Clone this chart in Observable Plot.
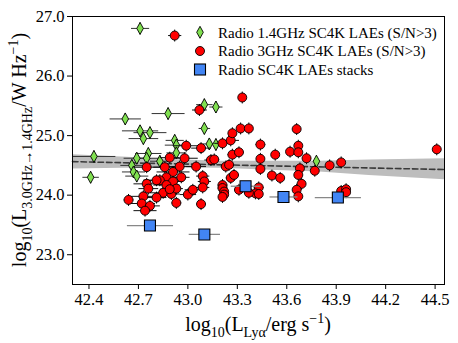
<!DOCTYPE html>
<html><head><meta charset="utf-8">
<script src="https://cdn.jsdelivr.net/npm/d3@7"></script>
<script src="https://cdn.jsdelivr.net/npm/@observablehq/plot@0.6"></script>
<style>body{margin:0;background:#fff}</style>
</head><body><div id="chart"></div>
<script>
// ---- Data ----
const redX = [42.92,43.07,43.33,42.99,43.08,43.21,43.26,43.27,43.32,43.37,43.44,43.66,43.67,44.51,43.62,43.67,43.53,43.72,43.44,43.77,43.86,43.93,43.68,43.44,43.67,43.51,43.56,43.69,43.43,43.41,43.43,43.66,43.67,43.93,43.96,43.96,
  42.89,42.98,42.75,42.86,42.95,43.05,43.14,43.16,43.27,43.31,43.23,43.25,43.26,43.28,42.91,42.87,42.83,42.81,42.96,43.09,43.10,43.09,42.91,42.87,42.75,42.76,42.85,42.90,42.93,42.89,43.00,43.03,42.73,42.81,42.64,42.72,42.77,42.74,42.93,43.08,43.21,43.21,43.22,43.22,43.21,43.31,43.37];
const redY = [26.68,25.43,25.64,24.83,24.79,24.87,24.92,25.04,25.12,25.12,24.85,25.11,24.83,24.77,24.73,24.72,24.68,24.62,24.61,24.41,24.50,24.55,24.45,24.44,24.34,24.33,24.29,24.19,24.13,24.03,24.02,24.09,23.98,24.07,24.10,24.05,
  24.63,24.62,24.47,24.47,24.48,24.48,24.59,24.60,24.68,24.72,24.48,24.51,24.29,24.34,24.39,24.30,24.25,24.25,24.30,24.32,24.23,24.13,24.23,24.17,24.19,24.11,24.04,24.02,24.11,24.10,24.01,24.09,23.98,23.96,23.92,23.86,23.82,23.74,23.87,23.85,24.17,24.12,24.06,24.01,23.97,24.09,24.04];
const redXerr = [0.04,0.045,0.02,0.08,0.06,0.05,0.05,0.02,0.02,0.02,0.03,0.02,0.02,0.02,0.02,0.02,0.02,0.02,0.02,0.02,0.02,0.02,0.02,0.02,0.02,0.02,0.02,0.02,0.03,0.03,0.02,0.02,0.02,0.02,0.02,0.02,
  0.06,0.08,0.08,0.07,0.09,0.06,0.04,0.03,0.03,0.03,0.03,0.03,0.03,0.03,0.10,0.08,0.10,0.08,0.05,0.04,0.04,0.04,0.06,0.08,0.08,0.06,0.08,0.05,0.04,0.06,0.05,0.05,0.08,0.06,0.03,0.08,0.06,0.07,0.03,0.03,0.03,0.03,0.02,0.02,0.02,0.03,0.03];

const greenX = [42.71,42.62,42.88,43.10,43.17,42.71,42.77,42.73,43.10,42.92,42.93,43.13,43.17,42.43,42.41,42.69,42.76,42.75,42.66,42.67,42.69,42.83,42.93,43.78];
const greenY = [26.80,25.28,25.37,25.52,25.48,25.08,25.05,24.95,25.12,24.92,24.84,24.86,24.85,24.65,24.30,24.62,24.70,24.62,24.50,24.39,24.32,24.57,24.71,24.57];
const greenXerr = [0.055,0.095,0.10,0.05,0.04,0.11,0.10,0.09,0.035,0.055,0.07,0.04,0.04,0.13,0.05,0.08,0.08,0.08,0.07,0.07,0.07,0.06,0.06,0.02];

const stackX = [42.77,43.10,43.35,43.58,43.91];
const stackY = [23.49,23.34,24.15,23.97,23.96];
const stackXerr = [0.14,0.095,0.09,0.085,0.14];

const yErrRadio = 0.1;

const fitX = [42.30, 44.557];
const fitY = [24.563, 24.430];
const bandX  = [42.30,42.60,42.90,43.20,43.50,43.80,44.10,44.557];
const bandLo = [24.44,24.45,24.46,24.45,24.42,24.39,24.33,24.26];
const bandHi = [24.68,24.64,24.60,24.57,24.57,24.57,24.59,24.61];

const xTicks = [42.4,42.7,43.0,43.3,43.6,43.9,44.2,44.5];
const yTicks = [23.0,24.0,25.0,26.0,27.0];
const legendLabels = ["Radio 1.4GHz SC4K LAEs (S/N>3)","Radio 3GHz SC4K LAEs (S/N>3)","Radio SC4K LAEs stacks"];

// ---- Build tables ----
const red = redX.map((x,i)=>({x, y: redY[i], e: redXerr[i]}));
const green = greenX.map((x,i)=>({x, y: greenY[i], e: greenXerr[i]}));
const stacks = stackX.map((x,i)=>({x, y: stackY[i], e: stackXerr[i]}));
const band = bandX.map((x,i)=>({x, lo: bandLo[i], hi: bandHi[i]}));
const fit = fitX.map((x,i)=>({x, y: fitY[i]}));

const thinDiamond = {draw(context, size) {
  const r = Math.sqrt(size / Math.PI);
  const h = r, w = r * 0.55;
  context.moveTo(0, -h); context.lineTo(w, 0); context.lineTo(0, h); context.lineTo(-w, 0); context.closePath();
}};

const GREEN = "#80e050", RED = "#ff0000", BLUE = "#4285f4";
const FONT = "Liberation Serif, DejaVu Serif, serif";

const hErr = (data, stroke, sw) => Plot.link(data, {x1: d=>d.x-d.e, x2: d=>d.x+d.e, y1: "y", y2: "y", stroke, strokeWidth: sw, clip: true});
const vErr = (data) => Plot.link(data, {x1: "x", x2: "x", y1: d=>d.y-yErrRadio, y2: d=>d.y+yErrRadio, stroke: "#000", strokeWidth: 1, clip: true});

const chart = Plot.plot({
  width: 458, height: 343,
  marginLeft: 72, marginRight: 14, marginTop: 16, marginBottom: 59,
  style: {fontFamily: FONT, fontSize: "16.5px", color: "#000", background: "#fff", overflow: "visible"},
  x: {domain: [42.30, 44.557], label: null},
  y: {domain: [22.50, 27.0], label: null},
  marks: [
    Plot.areaY(band, {x: "x", y1: "lo", y2: "hi", fill: "#bdbdbd"}),
    Plot.line(fit, {x: "x", y: "y", stroke: "#3a3a3a", strokeWidth: 1.6, strokeDasharray: "5.5,3"}),
    hErr(green, "#333", 1),
    vErr(green),
    Plot.dot(green, {x: "x", y: "y", symbol: thinDiamond, r: 6, fill: GREEN, stroke: "#000", strokeWidth: 0.9}),
    hErr(red, "#111", 1),
    vErr(red),
    Plot.dot(red, {x: "x", y: "y", r: 4.5, fill: RED, stroke: "#000", strokeWidth: 0.9}),
    hErr(stacks, "#888", 1.3),
    Plot.dot(stacks, {x: "x", y: "y", symbol: "square", r: 6.2, fill: BLUE, stroke: "#000", strokeWidth: 1.1}),
    Plot.axisX({ticks: xTicks, tickFormat: d => d.toFixed(1), tickSize: 5, tickPadding: 4, fontSize: 16.5, label: null}),
    Plot.axisY({ticks: yTicks, tickFormat: d => d.toFixed(1), tickSize: 5, tickPadding: 3, fontSize: 16.5, label: null}),
    Plot.frame({stroke: "#000", strokeWidth: 1})
  ]
});
document.getElementById("chart").appendChild(chart);

// ---- Legend and axis labels (real text) ----
const svg = d3.select(chart);
const lg = svg.append("g").attr("font-family", FONT).attr("font-size", 15).attr("fill", "#000").attr("text-anchor", "start");
const ly = [32.3, 51, 69.5];
lg.append("path").attr("transform", `translate(200,${ly[0]})`).attr("d", d3.symbol(thinDiamond, Math.PI*36)()).attr("fill", GREEN).attr("stroke", "#000").attr("stroke-width", 0.9);
lg.append("circle").attr("cx", 200).attr("cy", ly[1]).attr("r", 4.5).attr("fill", RED).attr("stroke", "#000").attr("stroke-width", 0.9);
lg.append("rect").attr("x", 194.5).attr("y", ly[2]-5.5).attr("width", 11).attr("height", 11).attr("fill", BLUE).attr("stroke", "#000").attr("stroke-width", 1.1);
legendLabels.forEach((t,i)=> lg.append("text").attr("x", 218).attr("y", ly[i]).attr("dy", "0.35em").attr("text-anchor", "start").text(t));

function rich(sel, parts, size) {
  let shift = 0;
  for (const [t, m] of parts) {
    const target = m === "sub" ? 0.28*size : m === "sup" ? -0.42*size : 0;
    sel.append("tspan").attr("dy", target - shift).attr("font-size", m === "n" ? size : size*0.7).text(t);
    shift = target;
  }
}
const xl = svg.append("text").attr("x", 258).attr("y", 331).attr("text-anchor", "middle")
  .attr("font-family", FONT).attr("fill", "#000");
rich(xl, [["log","n"],["10","sub"],["(L","n"],["Lyα","sub"],["/erg s","n"],["−1","sup"],[")","n"]], 20);
const yl = svg.append("text").attr("transform", "translate(26,150) rotate(-90)").attr("text-anchor", "middle")
  .attr("font-family", FONT).attr("fill", "#000");
rich(yl, [["log","n"],["10","sub"],["(L","n"],["3.0GHz→1.4GHz","sub"],["/W Hz","n"],["−1","sup"],[")","n"]], 20);
</script></body></html>
